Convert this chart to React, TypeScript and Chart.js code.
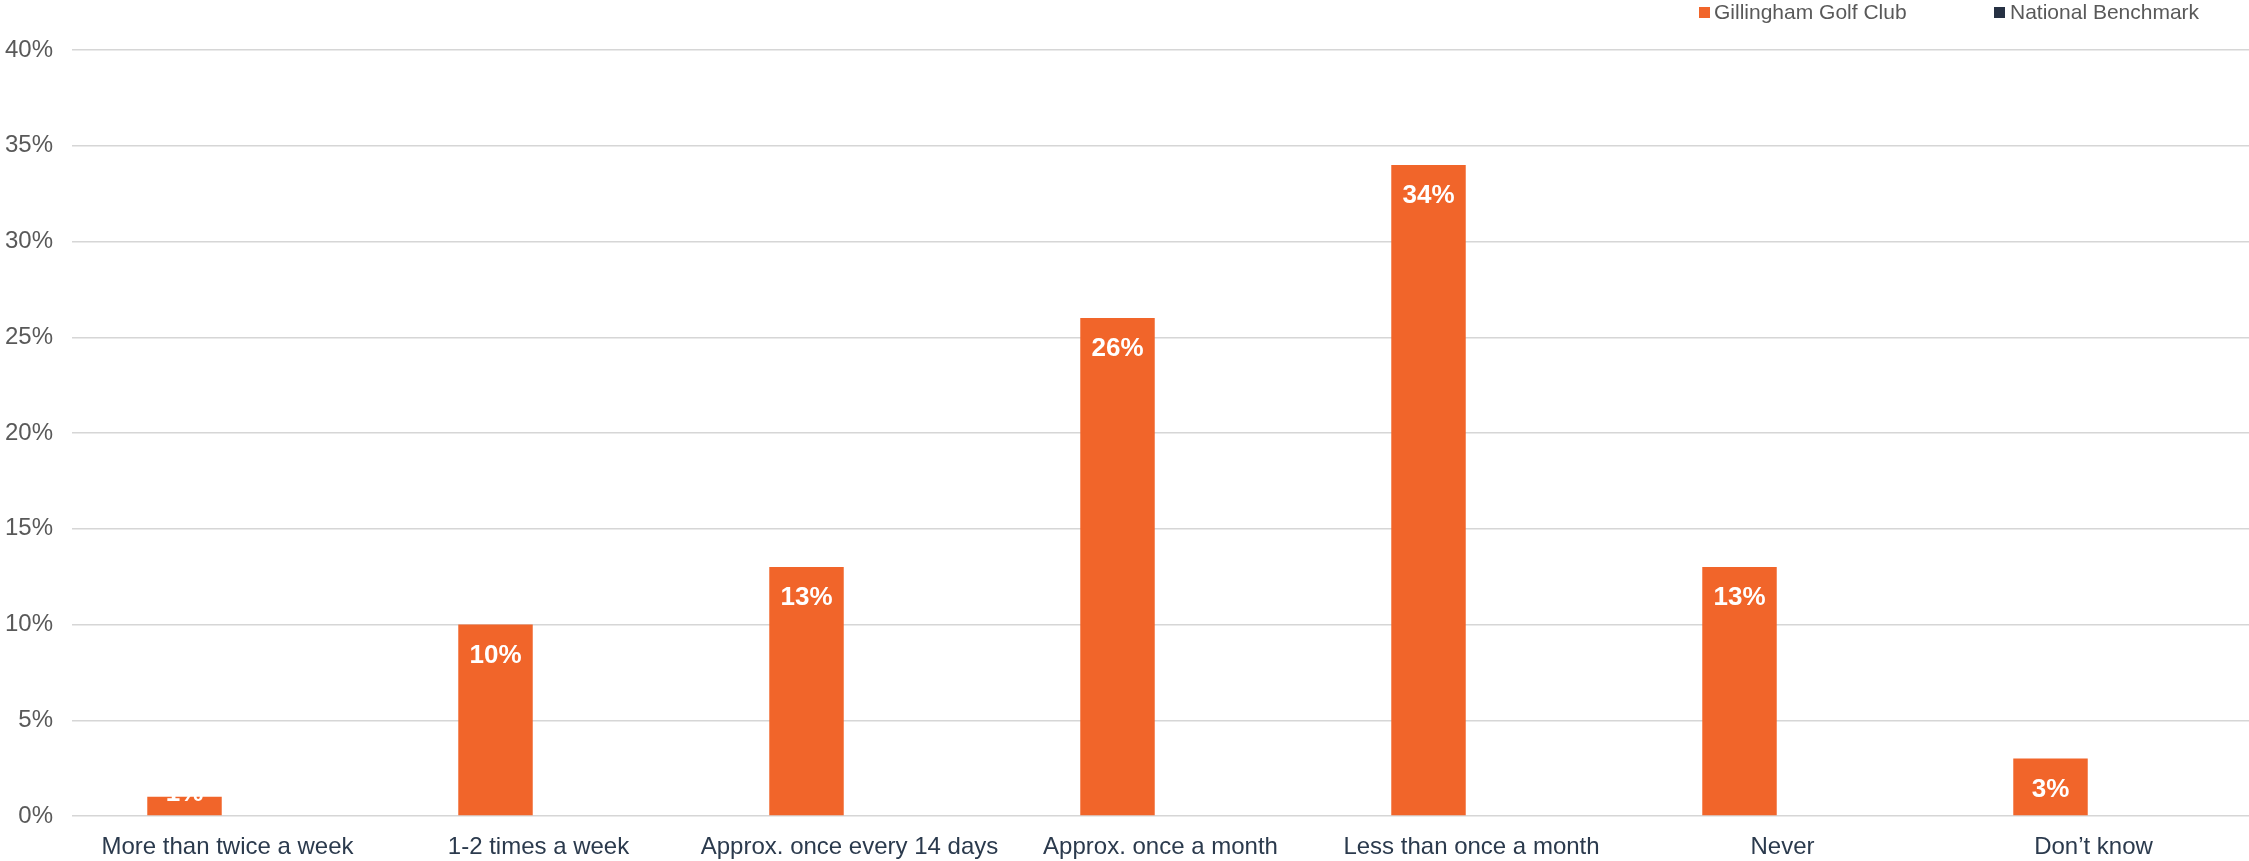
import React, { useEffect, useRef } from "react";
import { Chart, registerables } from "chart.js";

Chart.register(...registerables);

const categories = [
  "More than twice a week",
  "1-2 times a week",
  "Approx. once every 14 days",
  "Approx. once a month",
  "Less than once a month",
  "Never",
  "Don\u2019t know",
];
const clubValues = [1, 10, 13, 26, 34, 13, 3];
const benchmarkValues: (number | null)[] = [null, null, null, null, null, null, null];
const seriesNames = ["Gillingham Golf Club", "National Benchmark"];
const seriesColors = ["#F1652A", "#263143"];
const yMax = 40;
const yStep = 5;

const FONT = "'Liberation Sans', Arial, Helvetica, sans-serif";

const labelPlugin = {
  id: "valueLabels",
  afterDatasetsDraw(chart: any) {
    const ctx = chart.ctx;
    const meta = chart.getDatasetMeta(0);
    ctx.save();
    ctx.font = `bold 26px ${FONT}`;
    ctx.fillStyle = "#ffffff";
    ctx.textAlign = "center";
    ctx.textBaseline = "middle";
    meta.data.forEach((bar: any, i: number) => {
      const v = clubValues[i];
      if (v == null) return;
      const h = bar.base - bar.y;
      const y = h > 45 ? bar.y + 31 : bar.y - 3;
      ctx.fillText(`${v}%`, bar.x, y);
    });
    ctx.restore();
  },
};

const legendPlugin = {
  id: "customLegend",
  afterDraw(chart: any) {
    const ctx = chart.ctx;
    const items = [
      { box: 1699, text: 1714 },
      { box: 1994, text: 2010 },
    ];
    ctx.save();
    ctx.font = `21px ${FONT}`;
    ctx.textBaseline = "middle";
    ctx.textAlign = "left";
    items.forEach((it, i) => {
      ctx.fillStyle = seriesColors[i];
      ctx.fillRect(it.box, 7, 11, 11);
      ctx.fillStyle = "#595959";
      ctx.fillText(seriesNames[i], it.text, 13);
    });
    ctx.restore();
  },
};

export default function App() {
  const ref = useRef<HTMLCanvasElement | null>(null);
  useEffect(() => {
    if (!ref.current) return;
    const chart = new Chart(ref.current, {
      type: "bar",
      data: {
        labels: categories,
        datasets: [
          {
            label: seriesNames[0],
            data: clubValues,
            backgroundColor: seriesColors[0],
            categoryPercentage: 0.553,
            barPercentage: 0.866,
          },
          {
            label: seriesNames[1],
            data: benchmarkValues,
            backgroundColor: seriesColors[1],
            categoryPercentage: 0.553,
            barPercentage: 0.866,
          },
        ],
      },
      options: {
        responsive: false,
        animation: false,
        devicePixelRatio: 1,
        layout: { padding: { top: 50, left: 0, right: 0, bottom: 0 } },
        plugins: {
          legend: { display: false },
          tooltip: { enabled: false },
        },
        scales: {
          x: {
            grid: { display: false },
            border: { display: false },
            ticks: {
              font: { family: FONT, size: 24 },
              color: "#2B3A4D",
              padding: 9,
              maxRotation: 0,
              autoSkip: false,
            },
            afterFit(scale: any) {
              scale.height = 45;
            },
          },
          y: {
            min: 0,
            max: yMax,
            grid: { color: "#D6D6D6", lineWidth: 1.5, drawTicks: false },
            border: { display: false },
            ticks: {
              stepSize: yStep,
              padding: 19,
              font: { family: FONT, size: 24 },
              color: "#595959",
              callback: (v: any) => `${v}%`,
            },
            afterFit(scale: any) {
              scale.width = 72;
            },
          },
        },
      },
      plugins: [labelPlugin, legendPlugin],
    });
    return () => chart.destroy();
  }, []);
  return (
    <canvas
      ref={ref}
      width={2249}
      height={861}
      style={{ position: "fixed", left: 0, top: 0, width: 2249, height: 861, background: "#fff", display: "block" }}
    />
  );
}
